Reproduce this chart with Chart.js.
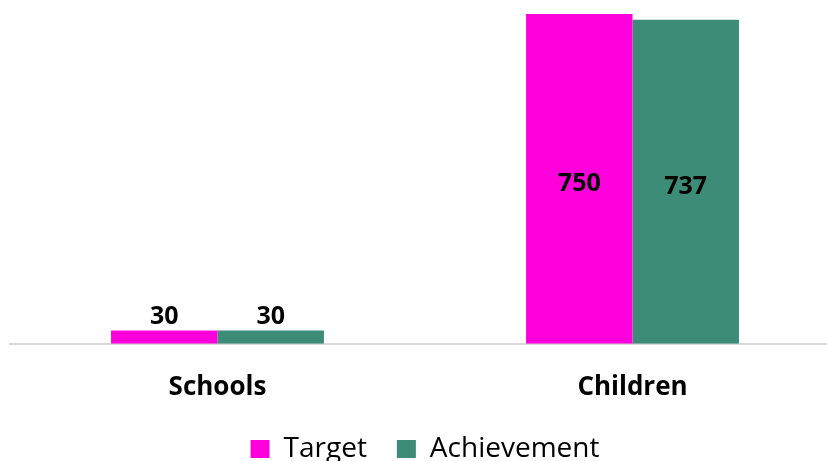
<!DOCTYPE html>
<html>
<head>
<meta charset="utf-8">
<script src="https://cdn.jsdelivr.net/npm/chart.js@4.4.1/dist/chart.umd.min.js"></script>
<style>
html,body{margin:0;padding:0;background:#fff;overflow:hidden;}
#wrap{width:840px;height:473px;position:relative;}
</style>
</head>
<body>
<div id="wrap"><canvas id="c"></canvas></div>
<script>
const categories = ["Schools", "Children"];
const targetValues = [30, 750];
const achievementValues = [30, 737];
const seriesNames = ["Target", "Achievement"];

const FONT = "'Open Sans', Lato, sans-serif";

const labelPlugin = {
  id: 'barLabels',
  afterDatasetsDraw(chart) {
    const ctx = chart.ctx;
    ctx.save();
    ctx.font = "bold 25px " + FONT;
    ctx.fillStyle = "#000";
    ctx.textAlign = "center";
    chart.data.datasets.forEach((ds, di) => {
      const meta = chart.getDatasetMeta(di);
      meta.data.forEach((bar, i) => {
        const v = ds.data[i];
        const h = bar.base - bar.y;
        if (h > 40) {
          ctx.textBaseline = "middle";
          ctx.fillText(String(v), bar.x, (bar.y + bar.base) / 2 + 5);
        } else {
          ctx.textBaseline = "alphabetic";
          ctx.fillText(String(v), bar.x, bar.y - 7);
        }
      });
    });
    ctx.restore();
  }
};

new Chart(document.getElementById('c'), {
  type: 'bar',
  data: {
    labels: categories,
    datasets: [
      { label: seriesNames[0], data: targetValues, backgroundColor: '#FF00DD' },
      { label: seriesNames[1], data: achievementValues, backgroundColor: '#3D8C77' }
    ]
  },
  options: {
    responsive: true,
    maintainAspectRatio: false,
    animation: false,
    layout: { padding: { left: 10, right: 0, top: 14, bottom: 0 } },
    datasets: { bar: { barPercentage: 1, categoryPercentage: 0.513 } },
    scales: {
      y: { display: false, min: 0, max: 750 },
      x: {
        grid: { display: false, drawTicks: false },
        border: { display: true, color: '#d9d9d9', width: 2 },
        ticks: { font: { family: FONT, size: 26, weight: 'bold' }, color: '#000', padding: 28 },
        afterFit(scale) { scale.height -= 26; }
      }
    },
    plugins: {
      legend: {
        position: 'bottom',
        padding: 4,
        labels: {
          font: { family: FONT, size: 28 },
          color: '#000',
          boxWidth: 19, boxHeight: 18,
          padding: 30
        }
      },
      tooltip: { enabled: false }
    }
  },
  plugins: [labelPlugin]
});
</script>
</body>
</html>
